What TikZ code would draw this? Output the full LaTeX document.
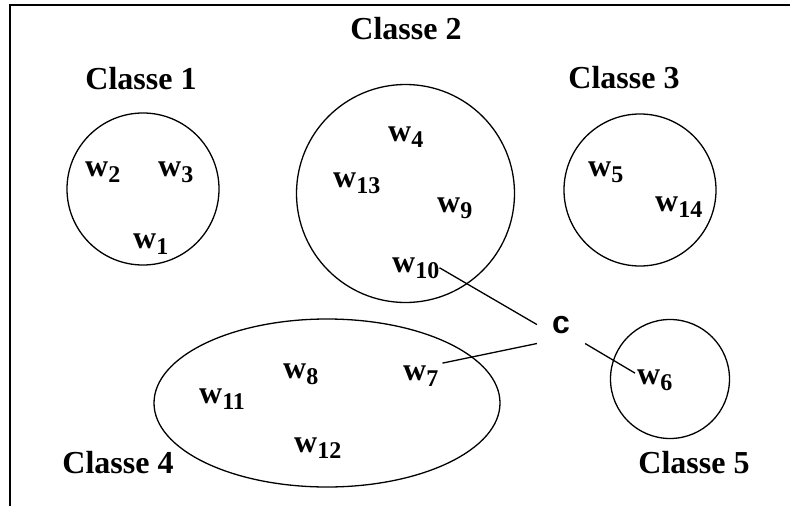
\documentclass[tikz,border=0pt]{standalone}
\usepackage{fontspec}
\setmainfont{Liberation Serif}
\newfontfamily\csans{Liberation Sans}
\newcommand{\wsub}[1]{w\raisebox{-6pt}{\fontsize{24}{24}\selectfont #1}}
\begin{document}
\begin{tikzpicture}[x=1pt,y=-1pt,
  cls/.style={line width=1.3pt},
  wlab/.style={anchor=base west,inner sep=0pt,font=\fontsize{32}{32}\selectfont\bfseries},
  clab/.style={anchor=base,inner sep=0pt,font=\fontsize{32}{32}\selectfont\bfseries},
  conn/.style={line width=1.3pt}]
\useasboundingbox (0,0) rectangle (790,506);
% border (top and left only)
\draw[line width=1.6pt] (790,5) -- (10,5) -- (10,506);
% classes
\draw[cls] (143,189) circle (76);
\draw[cls] (405.5,193.5) circle (109);
\draw[cls] (640,190) circle (76);
\draw[cls] (327,403) ellipse (173 and 84);
\draw[cls] (670,379) circle (59.5);
% class labels
\node[clab] (l1) at (141,89) {Classe 1};
\node[clab] (l2) at (406,39) {Classe 2};
\node[clab] (l3) at (624,88) {Classe 3};
\node[clab] (l4) at (118,473) {Classe 4};
\node[clab] (l5) at (694,473) {Classe 5};
% words
\node[wlab] (w2) at (85,176) {\wsub{2}};
\node[wlab] (w3) at (158,176) {\wsub{3}};
\node[wlab] (w1) at (133,248) {\wsub{1}};
\node[wlab] (w4) at (388,141) {\wsub{4}};
\node[wlab] (w13) at (333,187) {\wsub{13}};
\node[wlab] (w9) at (437,212) {\wsub{9}};
\node[wlab] (w10) at (392,272) {\wsub{10}};
\node[wlab] (w5) at (588,176) {\wsub{5}};
\node[wlab] (w14) at (655,211) {\wsub{14}};
\node[wlab] (w8) at (283,378) {\wsub{8}};
\node[wlab] (w7) at (403,380) {\wsub{7}};
\node[wlab] (w11) at (199,403) {\wsub{11}};
\node[wlab] (w12) at (294,452) {\wsub{12}};
\node[wlab] (w6) at (637,384) {\wsub{6}};
% centroid
\node[anchor=base,inner xsep=15pt,inner ysep=10pt,font=\fontsize{32}{32}\selectfont\csans\bfseries] (c) at (561,333) {c};
% connectors
\draw[conn] (w10.east) -- (c.west);
\draw[conn] (c.south west) -- ([xshift=4pt,yshift=2pt]w7.north east);
\draw[conn] (c.south east) -- ([xshift=-2pt,yshift=-4pt]w6.north west);
\end{tikzpicture}
\end{document}
